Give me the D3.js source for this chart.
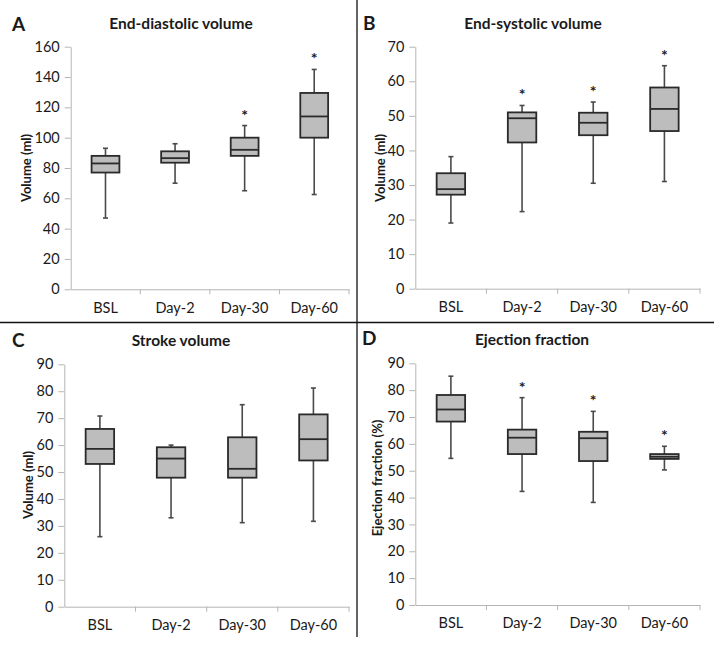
<!DOCTYPE html>
<html>
<head>
<meta charset="utf-8">
<script src="https://cdn.jsdelivr.net/npm/d3@7/dist/d3.min.js"></script>
<style>
  html, body { margin: 0; padding: 0; background: #fff; }
  svg { display: block; }
  text { font-family: Lato, "Open Sans", sans-serif; fill: #1a1a1a; }
</style>
</head>
<body>
<svg id="chart" width="714" height="645"></svg>
<script>
// ---- Data ----
const categories = ["BSL", "Day-2", "Day-30", "Day-60"];

// [min, Q1, median, Q3, max] per category
const edvStats = [[47, 77, 83, 88, 93], [70, 83.5, 86.5, 91, 96], [65, 88, 92, 100, 108], [62.5, 100, 114, 129.5, 145]];
const edvSig = [false, false, true, true];
const edvTicks = [0, 20, 40, 60, 80, 100, 120, 140, 160];

const esvStats = [[19, 27.2, 28.8, 33.4, 38.2], [22.3, 42.3, 49.3, 51, 53], [30.5, 44.4, 48, 50.9, 54], [31, 45.6, 52, 58.2, 64.5]];
const esvSig = [false, true, true, true];
const esvTicks = [0, 10, 20, 30, 40, 50, 60, 70];

const svStats = [[26, 53, 58.6, 66, 70.8], [33, 47.9, 55, 59.2, 60], [31.2, 47.9, 51.2, 62.9, 75], [31.7, 54.3, 62.2, 71.4, 81.2]];
const svSig = [false, false, false, false];
const svTicks = [0, 10, 20, 30, 40, 50, 60, 70, 80, 90];

const efStats = [[54.6, 68.3, 72.8, 78.2, 85.2], [42.3, 56.2, 62.3, 65.3, 77.2], [38.2, 53.6, 62.1, 64.5, 72.1], [50.3, 54.4, 55.2, 56.2, 59.1]];
const efSig = [false, true, true, true];
const efTicks = [0, 10, 20, 30, 40, 50, 60, 70, 80, 90];

const panelLetters = ["A", "B", "C", "D"];
const panelTitles = ["End-diastolic volume", "End-systolic volume", "Stroke volume", "Ejection fraction"];
const yLabels = ["Volume (ml)", "Volume (ml)", "Volume (ml)", "Ejection fraction (%)"];

// ---- Layout ----
const layouts = [
  { x0: 70.7, x1: 349, yTop: 46.7, yBot: 289.3, letterX: 12, letterY: 30.5, titleX: 181, titleY: 29, ylabX: 26, ylabY: 168 },
  { x0: 415.3, x1: 700, yTop: 46.7, yBot: 288.7, letterX: 363, letterY: 30, titleX: 533, titleY: 29, ylabX: 380, ylabY: 168 },
  { x0: 64.3, x1: 349, yTop: 364.3, yBot: 606.7, letterX: 12, letterY: 347, titleX: 181, titleY: 346, ylabX: 28, ylabY: 485 },
  { x0: 415.3, x1: 700, yTop: 363.3, yBot: 605, letterX: 362, letterY: 345, titleX: 532, titleY: 345, ylabX: 377, ylabY: 478 }
];

const panels = [
  { stats: edvStats, sig: edvSig, ticks: edvTicks },
  { stats: esvStats, sig: esvSig, ticks: esvTicks },
  { stats: svStats, sig: svSig, ticks: svTicks },
  { stats: efStats, sig: efSig, ticks: efTicks }
];

const svg = d3.select("#chart");

// separators
svg.append("line").attr("x1", 357).attr("x2", 357).attr("y1", 0).attr("y2", 637)
  .attr("stroke", "#111").attr("stroke-width", 1.3);
svg.append("line").attr("x1", 0).attr("x2", 714).attr("y1", 322.5).attr("y2", 322.5)
  .attr("stroke", "#111").attr("stroke-width", 1.3);

const axisColor = "#b5b5b5";

panels.forEach((p, i) => {
  const L = layouts[i];
  const g = svg.append("g");
  const tmax = p.ticks[p.ticks.length - 1];
  const y = d3.scaleLinear().domain([0, tmax]).range([L.yBot, L.yTop]);
  const x = d3.scaleBand().domain(categories).range([L.x0, L.x1]).paddingInner(0).paddingOuter(0);

  // y axis
  const ya = g.append("g").attr("transform", `translate(${L.x0},0)`)
    .call(d3.axisLeft(y).tickValues(p.ticks).tickSize(6).tickPadding(5).tickSizeOuter(0));
  ya.select(".domain").attr("stroke", axisColor);
  ya.selectAll(".tick line").attr("stroke", axisColor);
  ya.selectAll(".tick text").style("font-size", "14.5px").style("font-family", "Lato, sans-serif").attr("fill", "#1a1a1a");

  // x axis
  const xa = g.append("g").attr("transform", `translate(0,${L.yBot})`)
    .call(d3.axisBottom(x).tickSize(0).tickPadding(13).tickSizeOuter(0));
  xa.select(".domain").attr("stroke", axisColor);
  xa.selectAll(".tick text").style("font-size", "14.5px").style("font-family", "Lato, sans-serif").attr("fill", "#1a1a1a");
  // category boundary ticks
  g.selectAll(".bt").data(categories).enter().append("line")
    .attr("x1", d => x(d) + x.bandwidth()).attr("x2", d => x(d) + x.bandwidth())
    .attr("y1", L.yBot).attr("y2", L.yBot + 5).attr("stroke", axisColor);

  // boxes
  const bw = x.bandwidth() * 0.4;
  const capW = 5;
  const cats = g.selectAll(".cat").data(p.stats).enter().append("g")
    .attr("transform", (d, j) => `translate(${x(categories[j]) + x.bandwidth() / 2},0)`);

  cats.append("line").attr("x1", 0).attr("x2", 0)
    .attr("y1", d => y(d[0])).attr("y2", d => y(d[4]))
    .attr("stroke", "#4a4a4a").attr("stroke-width", 1.6);
  cats.append("line").attr("x1", -capW / 2).attr("x2", capW / 2)
    .attr("y1", d => y(d[4])).attr("y2", d => y(d[4]))
    .attr("stroke", "#4a4a4a").attr("stroke-width", 1.6);
  cats.append("line").attr("x1", -capW / 2).attr("x2", capW / 2)
    .attr("y1", d => y(d[0])).attr("y2", d => y(d[0]))
    .attr("stroke", "#4a4a4a").attr("stroke-width", 1.6);
  cats.append("rect").attr("x", -bw / 2).attr("width", bw)
    .attr("y", d => y(d[3])).attr("height", d => y(d[1]) - y(d[3]))
    .attr("fill", "#bdbdbd").attr("stroke", "#2a2a2a").attr("stroke-width", 1.8);
  cats.append("line").attr("x1", -bw / 2).attr("x2", bw / 2)
    .attr("y1", d => y(d[2])).attr("y2", d => y(d[2]))
    .attr("stroke", "#2a2a2a").attr("stroke-width", 1.8);
  cats.filter((d, j) => p.sig[j]).append("text")
    .attr("text-anchor", "middle")
    .attr("y", d => y(d[4]) - 5)
    .style("font-size", "16px").style("font-weight", "bold")
    .attr("fill", "#111")
    .text("*");

  // labels
  svg.append("text").attr("x", L.letterX).attr("y", L.letterY)
    .style("font-size", "19px").style("font-weight", "bold").style("font-family", "Lato, sans-serif")
    .attr("fill", "#111").text(panelLetters[i]);
  svg.append("text").attr("x", L.titleX).attr("y", L.titleY).attr("text-anchor", "middle")
    .style("font-size", "15.5px").style("font-weight", "bold").text(panelTitles[i]);
  svg.append("text").attr("transform", `translate(${L.ylabX},${L.ylabY}) rotate(-90)`)
    .attr("text-anchor", "middle").attr("dy", "0.35em")
    .style("font-size", "13px").style("font-weight", "bold").text(yLabels[i]);
});
</script>
</body>
</html>
